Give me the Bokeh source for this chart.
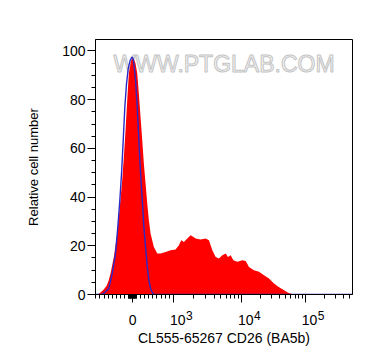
import numpy as np
from bokeh.plotting import figure
from bokeh.models import FixedTicker, Range1d, LinearAxis
from bokeh.core.properties import value
from bokeh.embed import file_html
from bokeh.resources import INLINE

FONT = "Liberation Sans"

# ---- data (x in display channel units of the biexponential axis; 0 = value 0) ----
sample_x = [-35, -32, -29, -26, -24, -22, -18.7, -15.3, -12.7, -10.3, -8.7, -7, -5.3, -3.7,
            -1.3, 0.3, 1.5, 3, 4.7, 6.3, 8, 9.7, 11.3, 13, 14.7, 16.3, 18, 21.3, 24.7, 28,
            33, 38, 43, 46.3, 48.7, 51.3, 54.7, 58, 59.7, 63, 68, 73, 76.3, 79.7, 83, 86.3,
            89.7, 93, 95.3, 98, 100.7, 104.7, 109.7, 113, 116.3, 121.3, 126.3, 131.3, 136.3,
            141.3, 146, 151, 155, 159, 162]
sample_y = [0, 0.8, 2, 3.5, 5.5, 8.6, 15.4, 25, 36, 47, 56.5, 67.4, 79.8, 90.7,
            96.2, 97, 96.5, 94.8, 90.7, 82.5, 72.9, 63.3, 53.8, 45.6, 37.4, 30.5, 25, 19.5, 16.8, 16.8,
            17.5, 18.2, 18.5, 20.2, 22.3, 21.6, 23, 24.3, 23.9, 23, 22.6, 23, 22.3, 18.2, 15.4, 14.8,
            16.1, 16.8, 15.4, 16.1, 14.1, 13.4, 14.1, 13.8, 11.3, 10, 9.3, 7.9, 6.6,
            4.5, 3.1, 1.8, 0.8, 0.2, 0]

control_x = [-37, -31, -28.7, -26, -23.7, -20.3, -17, -14.7, -12.7, -11, -9.3, -7.7, -6, -4.3,
             -2.3, -0.7, 0.5, 1.3, 3, 4.7, 6.3, 8, 9.7, 11.3, 13, 14.7, 16.3, 18, 19.5, 21.3, 220]
control_y = [0, 0, 0.5, 1.5, 2.5, 8.6, 16.8, 27.8, 38.7, 49.7, 63.3, 77, 86.6, 92.8,
             96.2, 97.5, 97, 94.8, 88, 77, 63.3, 49.7, 38.7, 27.8, 19.5, 11.3, 5.9, 2.5, 1, 0, 0]

x_tick_values = [0, 1e3, 1e4, 1e5]
x_tick_base = ["0", "10", "10", "10"]
x_tick_exp = ["", "3", "4", "5"]
y_ticks = [0, 20, 40, 60, 80, 100]
y_minor = [5, 10, 15, 25, 30, 35, 45, 50, 55, 65, 70, 75, 85, 90, 95]

# biexponential display transform (linear near 0, log above 10^3)
LIN = 0.0407
DEC_LOG = [3, 4, 5, 6]
DEC_POS = [40.7, 108.7, 172.3, 235.9]


def biex(v):
    a = abs(v)
    if a <= 1000:
        return round(v * LIN, 3)
    d = float(np.interp(np.log10(a), DEC_LOG, DEC_POS))
    return round(d if v > 0 else -d, 3)


minor_vals = ([-k * 100 for k in range(1, 10)] + [-k * 10 for k in range(1, 10)] +
              [k * 10 for k in range(1, 10)] + [k * 100 for k in range(1, 10)] +
              [k * 1000 for k in range(2, 10)] + [k * 10000 for k in range(2, 10)] +
              [k * 100000 for k in range(2, 6)])

p = figure(width=364, height=356, output_backend="svg", toolbar_location=None,
           x_range=Range1d(-37, 219.7), y_range=Range1d(0, 104.7),
           min_border_left=95, min_border_right=12, min_border_top=39, min_border_bottom=62)
p.background_fill_color = "white"
p.border_fill_color = "white"
p.grid.visible = False
p.outline_line_color = "black"
p.outline_line_width = 1

# watermark
p.text(x=[91.4], y=[94.8], text=["WWW.PTGLAB.COM"], text_font=value(FONT),
       text_font_size="23px", text_align="center", text_baseline="middle",
       text_color="#f6f6f6", text_outline_color="#c4c4c4")

p.varea(x=sample_x, y1=0, y2=sample_y, fill_color="#ff0000")
p.line(control_x, control_y, line_color="#2a2ac8", line_width=1.4)

# --- x axis: ticks only (nearest the frame) ---
xmaj = [biex(v) for v in x_tick_values]
xmin = [biex(v) for v in minor_vals]
xa = p.xaxis[0]
xa.ticker = FixedTicker(ticks=xmaj, minor_ticks=xmin)
xa.major_label_overrides = {t: "" for t in xmaj}
xa.major_label_text_font_size = "1px"
xa.major_tick_out = 8
xa.major_tick_in = 0
xa.minor_tick_out = 4
xa.minor_tick_in = 0
xa.major_label_standoff = 0
xa.axis_line_color = "black"
xa.major_tick_line_color = "black"
xa.minor_tick_line_color = "black"

# --- exponent labels (superscripts) ---
EXP_SHIFT = 16.0
BASE_SHIFT = 4.5
exp_pos = [round(biex(v) + EXP_SHIFT, 3) for v, e in zip(x_tick_values, x_tick_exp) if e]
exp_txt = [e for e in x_tick_exp if e]
exp_axis = LinearAxis(ticker=FixedTicker(ticks=exp_pos, minor_ticks=[]),
                      major_label_overrides=dict(zip(exp_pos, exp_txt)),
                      major_tick_out=0, major_tick_in=0, minor_tick_out=0, minor_tick_in=0,
                      axis_line_color=None, major_tick_line_color=None, minor_tick_line_color=None,
                      major_label_standoff=8,
                      major_label_text_font=FONT, major_label_text_font_size="12px",
                      major_label_text_color="black")
p.add_layout(exp_axis, "below")

# --- base labels "0" / "10" with axis title ---
base_pos = [round(biex(v) + (BASE_SHIFT if e else 0.0), 3) for v, e in zip(x_tick_values, x_tick_exp)]
base_axis = LinearAxis(ticker=FixedTicker(ticks=base_pos, minor_ticks=[]),
                       major_label_overrides=dict(zip(base_pos, x_tick_base)),
                       major_tick_out=0, major_tick_in=0, minor_tick_out=0, minor_tick_in=0,
                       axis_line_color=None, major_tick_line_color=None, minor_tick_line_color=None,
                       major_label_standoff=-8,
                       major_label_text_font=FONT, major_label_text_font_size="14px",
                       major_label_text_color="black",
                       axis_label="CL555-65267 CD26 (BA5b)", axis_label_text_font=FONT,
                       axis_label_text_font_size="14px", axis_label_text_font_style="normal",
                       axis_label_text_color="black", axis_label_standoff=2)
p.add_layout(base_axis, "below")

# --- y axis ---
p.yaxis.ticker = FixedTicker(ticks=y_ticks, minor_ticks=y_minor)
p.yaxis.major_tick_out = 8
p.yaxis.major_tick_in = 0
p.yaxis.minor_tick_out = 4
p.yaxis.minor_tick_in = 0
p.yaxis.major_label_standoff = 2
p.yaxis.major_label_text_font = FONT
p.yaxis.major_label_text_font_size = "14px"
p.yaxis.major_label_text_color = "black"
p.yaxis.axis_label = "Relative cell number"
p.yaxis.axis_label_text_font = FONT
p.yaxis.axis_label_text_font_size = "13px"
p.yaxis.axis_label_text_font_style = "normal"
p.yaxis.axis_label_text_color = "black"
p.yaxis.axis_label_standoff = 18
p.yaxis.axis_line_color = "black"
p.yaxis.major_tick_line_color = "black"
p.yaxis.minor_tick_line_color = "black"

open("out.html", "w").write(file_html(p, INLINE))
